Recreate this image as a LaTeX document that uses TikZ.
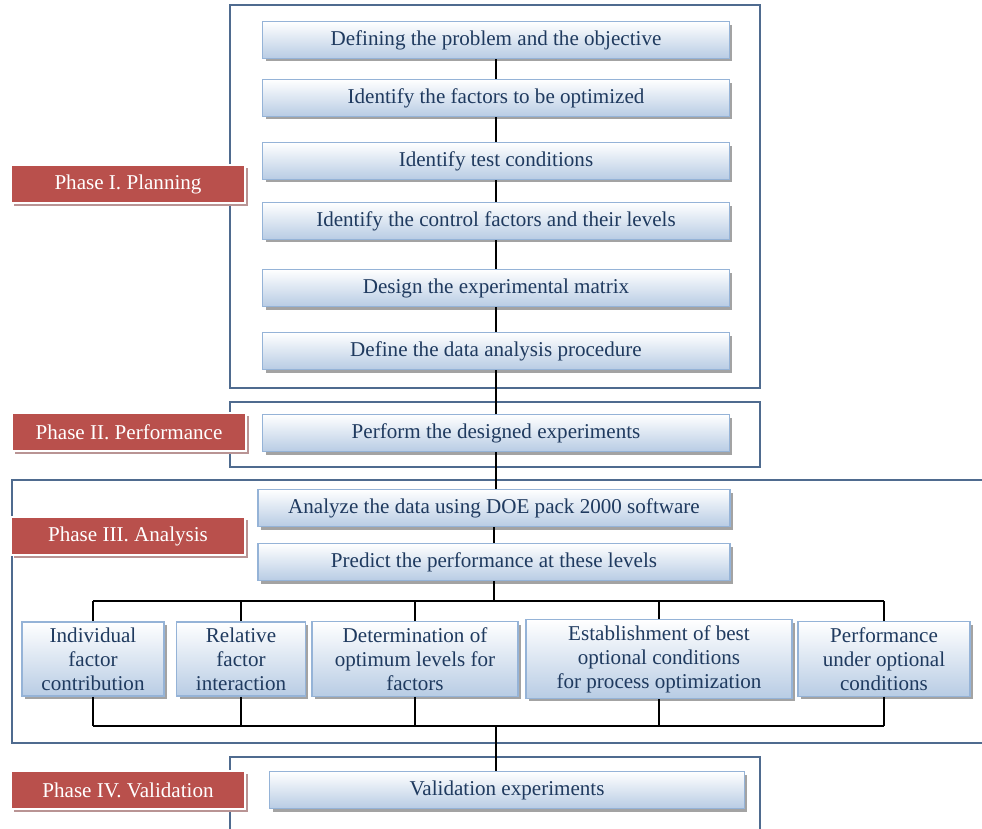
\documentclass[tikz,border=0pt]{standalone}
\usepackage{fontspec}
\setmainfont{Liberation Serif}
\usetikzlibrary{shadows}
\definecolor{frame blue}{rgb}{0.3098, 0.4196, 0.5608}
\definecolor{box edge}{rgb}{0.5843, 0.7020, 0.8431}
\definecolor{box fill}{rgb}{0.7216, 0.8000, 0.8941}
\definecolor{box text}{rgb}{0.1216, 0.2275, 0.3725}
\definecolor{phase red}{rgb}{0.7255, 0.3137, 0.2980}
\definecolor{phase shade}{rgb}{0.7255, 0.5804, 0.5804}

\tikzset{
	stepbox/.style = {draw = box edge, line width = 0.8pt, top color = white, bottom color = box fill,
		text = box text, align = center, minimum width = 9.34cm, minimum height = 0.74cm,
		font = \fontsize{12}{13.6}\selectfont,
		drop shadow = {shadow xshift = 0.06cm, shadow yshift = -0.06cm, fill = black!45, opacity = 0.8}},
	phasebox/.style = {draw = white, line width = 0.8pt, fill = phase red, text = white,
		minimum width = 4.68cm, minimum height = 0.76cm, font = \fontsize{12}{13.6}\selectfont,
		drop shadow = {shadow xshift = 0.06cm, shadow yshift = -0.06cm, fill = phase shade, opacity = 1}},
	phaseframe/.style = {draw = frame blue, line width = 0.8pt},
	link/.style = {draw = black, line width = 1pt}
}

\begin{document}
\begin{tikzpicture}[x = 0.02cm, y = -0.02cm]
	\useasboundingbox (0, 0) rectangle (982, 828);
	% frames of the four phases
	\draw[phaseframe] (230, 5) rectangle (760, 388);
	\draw[phaseframe] (230, 402) rectangle (760, 467);
	\draw[phaseframe] (1000, 480) -- (12, 480) -- (12, 743) -- (1000, 743);
	\draw[phaseframe] (230, 840) -- (230, 757) -- (760, 757) -- (760, 840);
	% Phase I
	\node[stepbox] (define) at (496, 40) {Defining the problem and the objective};
	\node[stepbox] (factors) at (496, 98) {Identify the factors to be optimized};
	\node[stepbox] (conditions) at (496, 161) {Identify test conditions};
	\node[stepbox] (control) at (496, 221) {Identify the control factors and their levels};
	\node[stepbox] (matrix) at (496, 288) {Design the experimental matrix};
	\node[stepbox] (procedure) at (496, 351) {Define the data analysis procedure};
	% Phase II
	\node[stepbox] (perform) at (496, 433) {Perform the designed experiments};
	% Phase III
	\node[stepbox, minimum width = 9.44cm] (analyze) at (494, 508) {Analyze the data using DOE pack 2000 software};
	\node[stepbox, minimum width = 9.44cm] (predict) at (494, 562) {Predict the performance at these levels};
	\begin{scope}[every node/.append style = {minimum height = 1.68cm}]
		\node[stepbox, minimum width = 2.84cm] (individual) at (93, 659) {Individual\\factor\\contribution};
		\node[stepbox, minimum width = 2.58cm] (relative) at (241, 659) {Relative\\factor\\interaction};
		\node[stepbox, minimum width = 4.12cm] (optimum) at (415, 659) {Determination of\\optimum levels for\\factors};
		\node[stepbox, minimum width = 5.32cm] (best) at (659, 659) {Establishment of best\\optional conditions\\for process optimization};
		\node[stepbox, minimum width = 3.44cm] (under) at (884, 659) {Performance\\under optional\\conditions};
	\end{scope}
	% Phase IV
	\node[stepbox, minimum width = 9.5cm] (validation) at (507, 790) {Validation experiments};
	% connectors
	\coordinate (split) at (495, 601);
	\coordinate (join) at (496, 726);
	\draw[link] (define) -- (factors) -- (conditions) -- (control) -- (matrix) -- (procedure) -- (perform);
	\draw[link] (perform.south) -- (perform.south |- analyze.north);
	\draw[link] (analyze.south) -- (predict.north);
	\draw[link] (predict.south) -- (predict.south |- split);
	\draw[link] (individual.north |- split) -- (under.north |- split);
	\draw[link] (individual.south |- join) -- (under.south |- join);
	\foreach \n in {individual, relative, optimum, best, under} {
		\draw[link] (\n.north) -- (\n.north |- split);
		\draw[link] (\n.south) -- (\n.south |- join);
	}
	\draw[link] (join) -- (join |- validation.north);
	% phase labels
	\node[phasebox] (planning) at (128, 184) {Phase I. Planning};
	\node[phasebox] (performance) at (129, 432) {Phase II. Performance};
	\node[phasebox] (analysis) at (128, 536) {Phase III. Analysis};
	\node[phasebox] (validating) at (128, 790) {Phase IV. Validation};
\end{tikzpicture}
\end{document}
